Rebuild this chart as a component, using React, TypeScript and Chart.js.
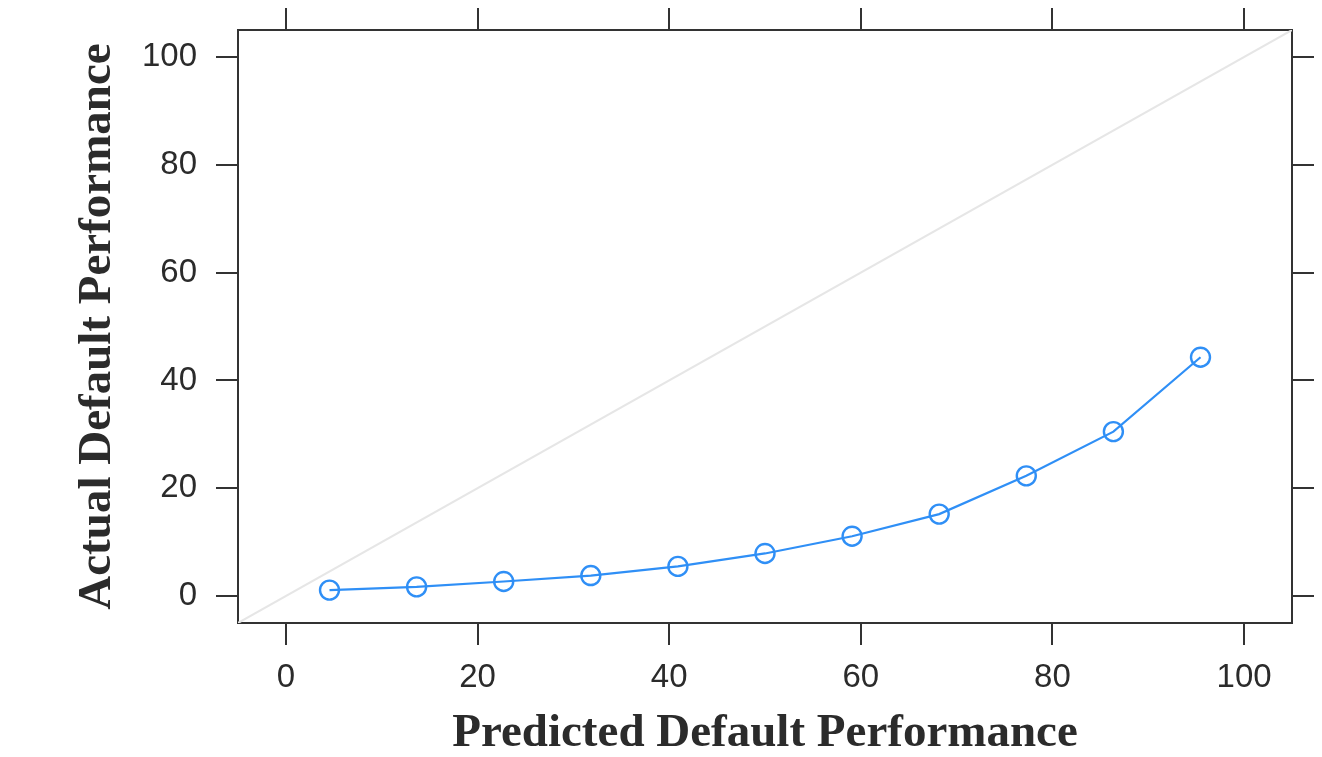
import React, { useEffect, useRef } from "react";
import { Chart, registerables } from "chart.js";

Chart.register(...registerables);

const predicted = [4.55, 13.64, 22.73, 31.82, 40.91, 50.0, 59.09, 68.18, 77.27, 86.36, 95.45];
const actual = [1.1, 1.7, 2.7, 3.8, 5.5, 7.9, 11.1, 15.2, 22.3, 30.5, 44.3];
const referenceLine = [-5, 105];
const xTicks = [0, 20, 40, 60, 80, 100];
const yTicks = [0, 20, 40, 60, 80, 100];
const axisMin = -5;
const axisMax = 105;

const xTitle = "Predicted Default Performance";
const yTitle = "Actual Default Performance";

const SERIES = "#2f8ff6";
const REF = "#e6e6e6";
const FRAME = "#333333";
const TEXT = "#2b2b2b";

export default function App() {
  const ref = useRef<HTMLCanvasElement | null>(null);

  useEffect(() => {
    if (!ref.current) return;
    const tickFont = { family: "'Liberation Sans', Arial, sans-serif", size: 33 };
    const titleFont = { family: "'Liberation Serif', 'Times New Roman', serif", size: 47, weight: "bold" as const, lineHeight: 1 };
    const grid = {
      display: true,
      drawOnChartArea: false,
      drawTicks: true,
      tickLength: 22,
      color: FRAME,
      lineWidth: 2,
    };
    const border = { display: true, color: FRAME, width: 2 };
    const setX = (s: any) => { s.ticks = xTicks.map((v) => ({ value: v })); };
    const setY = (s: any) => { s.ticks = yTicks.map((v) => ({ value: v })); };
    const fitH = (h: number) => (s: any) => {
      s.height = h;
      s.paddingLeft = 0; s.paddingRight = 0; s.paddingTop = 0; s.paddingBottom = 0;
    };
    const fitW = (w: number) => (s: any) => {
      s.width = w;
      s.paddingLeft = 0; s.paddingRight = 0; s.paddingTop = 0; s.paddingBottom = 0;
    };

    const chart = new Chart(ref.current, {
      type: "line",
      data: {
        datasets: [
          {
            data: predicted.map((x, i) => ({ x, y: actual[i] })),
            borderColor: SERIES,
            borderWidth: 2.2,
            pointRadius: 9.5,
            pointBorderWidth: 2.4,
            pointBorderColor: SERIES,
            pointBackgroundColor: "rgba(0,0,0,0)",
            fill: false,
            tension: 0,
            xAxisID: "x",
            yAxisID: "y",
          },
          {
            data: referenceLine.map((v) => ({ x: v, y: v })),
            borderColor: REF,
            borderWidth: 2,
            pointRadius: 0,
            fill: false,
            xAxisID: "x",
            yAxisID: "y",
          },
        ],
      },
      options: {
        responsive: false,
        animation: false,
        devicePixelRatio: 1,
        layout: { padding: 0 },
        plugins: { legend: { display: false }, tooltip: { enabled: false } },
        scales: {
          x: {
            type: "linear",
            position: "bottom",
            min: axisMin,
            max: axisMax,
            afterBuildTicks: setX,
            afterFit: fitH(134),
            grid,
            border,
            ticks: { font: tickFont, color: TEXT, padding: 13, maxRotation: 0 },
            title: { display: true, text: xTitle, font: titleFont, color: TEXT, padding: 0 },
          },
          x2: {
            type: "linear",
            position: "top",
            min: axisMin,
            max: axisMax,
            afterBuildTicks: setX,
            afterFit: fitH(30),
            grid,
            border,
            ticks: { display: false },
          },
          y: {
            type: "linear",
            position: "left",
            min: axisMin,
            max: axisMax,
            afterBuildTicks: setY,
            afterFit: fitW(238),
            grid,
            border,
            ticks: { font: tickFont, color: TEXT, padding: 19 },
            title: { display: true, text: yTitle, font: titleFont, color: TEXT, padding: { top: 74, bottom: 0 } },
          },
          y2: {
            type: "linear",
            position: "right",
            min: axisMin,
            max: axisMax,
            afterBuildTicks: setY,
            afterFit: fitW(30),
            grid,
            border,
            ticks: { display: false },
          },
        },
      },
    });
    return () => chart.destroy();
  }, []);

  return (
    <div style={{ position: "fixed", left: 0, top: 0, width: 1322, height: 757, background: "#fff" }}>
      <canvas ref={ref} width={1322} height={757} style={{ display: "block", width: 1322, height: 757 }} />
    </div>
  );
}
